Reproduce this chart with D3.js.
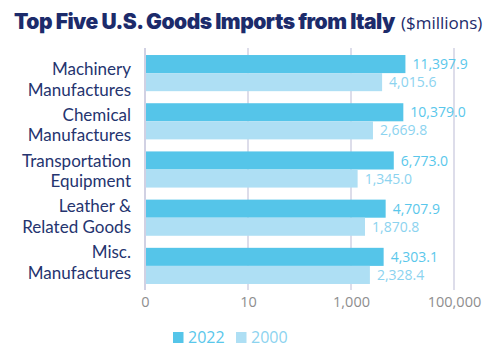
<!DOCTYPE html>
<html>
<head>
<meta charset="utf-8">
<script src="https://cdn.jsdelivr.net/npm/d3@7"></script>
<style>
  html, body { margin: 0; padding: 0; background: #fff; }
  svg { display: block; }
</style>
</head>
<body>
<svg id="chart" width="492" height="350"></svg>
<script>
// Top five U.S. goods imports from Italy, $ millions
const categories = [
  ["Machinery", "Manufactures"],
  ["Chemical", "Manufactures"],
  ["Transportation", "Equipment"],
  ["Leather &", "Related Goods"],
  ["Misc.", "Manufactures"]
];
const categoryKeys = categories.map(c => c.join(" "));
const series = ["2022", "2000"];
const values2022 = [11397.9, 10379.0, 6773.0, 4707.9, 4303.1];
const values2000 = [4015.6, 2669.8, 1345.0, 1870.8, 2328.4];
const tickValues = [0.1, 10, 1000, 100000];
const tickLabels = ["0", "10", "1,000", "100,000"];

const seriesValues = { "2022": values2022, "2000": values2000 };
const barColor = { "2022": "#55c5e9", "2000": "#aedff4" };
const labelColor = { "2022": "#5ac7eb", "2000": "#8cd3ef" };
const navy = "#1c2b6b";
const font = "'Open Sans', Lato, sans-serif";

const svg = d3.select("#chart");

// Title
const title = svg.append("text")
  .attr("x", 14).attr("y", 29)
  .attr("fill", navy);
title.append("tspan")
  .attr("font-family", "Inter, Lato, sans-serif")
  .attr("font-weight", 900)
  .attr("font-size", 21)
  .attr("letter-spacing", -0.5)
  .text("Top Five U.S. Goods Imports from Italy");
title.append("tspan")
  .attr("font-family", font)
  .attr("font-size", 17)
  .attr("dx", 6)
  .text("($millions)");

// Scales
const x = d3.scaleLog().base(100).domain([0.1, 100000]).range([145, 454]);
const y = d3.scaleBand().domain(categoryKeys).range([49, 290]).paddingInner(0.25).paddingOuter(0.125);
const ySub = d3.scaleBand().domain(series).range([0, y.bandwidth()]);
const yLabel = d3.scalePoint().domain(categoryKeys).range([78.5, 261.5]);

// Vertical gridlines
svg.append("g").selectAll("line")
  .data(tickValues)
  .join("line")
  .attr("x1", d => x(d)).attr("x2", d => x(d))
  .attr("y1", 48).attr("y2", 290)
  .attr("stroke", "#c6c6dc")
  .attr("stroke-width", (d, i) => i === 0 ? 1.6 : 1.2);

// Bars
const groups = svg.append("g").selectAll("g")
  .data(categoryKeys)
  .join("g")
  .attr("transform", d => `translate(0,${y(d)})`);

groups.selectAll("rect")
  .data((d, i) => series.map(s => ({ s, v: seriesValues[s][i] })))
  .join("rect")
  .attr("x", x(0.1) + 1)
  .attr("y", d => ySub(d.s))
  .attr("width", d => x(d.v) - x(0.1) - 1)
  .attr("height", ySub.bandwidth())
  .attr("fill", d => barColor[d.s]);

groups.selectAll("text")
  .data((d, i) => series.map(s => ({ s, v: seriesValues[s][i] })))
  .join("text")
  .attr("x", d => x(d.v) + 7)
  .attr("y", d => ySub(d.s) + ySub.bandwidth() / 2)
  .attr("dy", "0.36em")
  .attr("font-family", font)
  .attr("font-size", 14)
  .attr("fill", d => labelColor[d.s])
  .text(d => d3.format(",.1f")(d.v));

// Category labels (two lines each)
const cat = svg.append("g").selectAll("text")
  .data(categories)
  .join("text")
  .attr("text-anchor", "end")
  .attr("font-family", "Lato, 'Open Sans', sans-serif")
  .attr("font-size", 17)
  .attr("fill", "#25346f")
  .attr("transform", (d, i) => `translate(131,${yLabel(categoryKeys[i])})`);
cat.selectAll("tspan")
  .data(d => d)
  .join("tspan")
  .attr("x", 0)
  .attr("y", (d, i) => i === 0 ? -3.3 : 17.2)
  .text(d => d);

// X axis tick labels
const xAxis = d3.axisBottom(x)
  .tickValues(tickValues)
  .tickFormat((d, i) => tickLabels[i])
  .tickSize(0)
  .tickPadding(0);
const gx = svg.append("g").attr("transform", "translate(0,297)").call(xAxis);
gx.select(".domain").remove();
gx.selectAll("text")
  .attr("font-family", font)
  .attr("font-size", 14.5)
  .attr("fill", "#8e8e8e");

// Legend
const legend = svg.append("g").attr("transform", "translate(173,332)");
const items = legend.selectAll("g")
  .data(series)
  .join("g")
  .attr("transform", (d, i) => `translate(${i * 63},0)`);
items.append("rect")
  .attr("width", 10.5).attr("height", 11)
  .attr("fill", d => barColor[d]);
items.append("text")
  .attr("x", 15).attr("y", 5.5).attr("dy", "0.36em")
  .attr("font-family", font)
  .attr("font-size", 16)
  .attr("fill", d => labelColor[d])
  .text(d => d);
</script>
</body>
</html>
